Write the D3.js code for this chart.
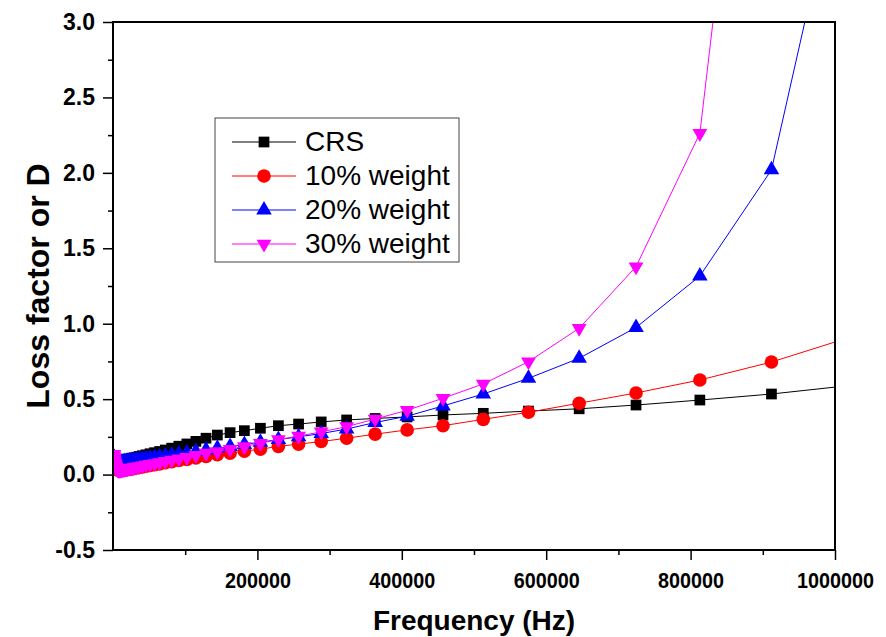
<!DOCTYPE html>
<html>
<head>
<meta charset="utf-8">
<script src="https://cdn.jsdelivr.net/npm/d3@7"></script>
<style>
  body { margin: 0; background: #fff; }
  svg { display: block; }
</style>
</head>
<body>
<div id="chartDiv"></div>
<script>
// frequency points (Hz), log spaced
const freq = [1023, 1148, 1288, 1445, 1622, 1820, 2042, 2291, 2570, 2884,
  3236, 3631, 4074, 4571, 5129, 5754, 6457, 7244, 8128, 9120,
  10233, 11482, 12882, 14454, 16218, 18197, 20417, 22909, 25704, 28840,
  32359, 36308, 40738, 45709, 51286, 57544, 64565, 72444, 81283, 91201,
  102329, 114815, 128825, 144544, 162181, 181970, 204174, 229087, 257040, 288403,
  323594, 363078, 407380, 457088, 512861, 575440, 645654, 724436, 812831, 912011,
  1023293]

const crs = [0.125, 0.12, 0.116, 0.112, 0.108, 0.105, 0.102, 0.1, 0.098, 0.096,
  0.094, 0.093, 0.092, 0.091, 0.09, 0.089, 0.089, 0.088, 0.088, 0.088,
  0.089, 0.09, 0.092, 0.094, 0.096, 0.098, 0.101, 0.104, 0.107, 0.111,
  0.115, 0.12, 0.125, 0.131, 0.138, 0.145, 0.153, 0.163, 0.175, 0.188,
  0.203, 0.22, 0.241, 0.262, 0.278, 0.291, 0.307, 0.324, 0.335, 0.349,
  0.362, 0.372, 0.382, 0.395, 0.406, 0.421, 0.436, 0.461, 0.494, 0.534,
  0.592]

const w10 = [0.1, 0.095, 0.09, 0.085, 0.08, 0.075, 0.07, 0.065, 0.06, 0.056,
  0.052, 0.048, 0.044, 0.041, 0.038, 0.035, 0.032, 0.03, 0.029, 0.028,
  0.028, 0.028, 0.029, 0.03, 0.031, 0.032, 0.034, 0.036, 0.038, 0.041,
  0.044, 0.047, 0.051, 0.055, 0.06, 0.065, 0.071, 0.078, 0.085, 0.093,
  0.101, 0.11, 0.12, 0.131, 0.142, 0.155, 0.168, 0.187, 0.202, 0.219,
  0.241, 0.268, 0.296, 0.324, 0.366, 0.413, 0.473, 0.541, 0.627, 0.746,
  0.914]

const w20 = [0.118, 0.113, 0.108, 0.104, 0.1, 0.097, 0.094, 0.091, 0.089, 0.087,
  0.085, 0.084, 0.083, 0.082, 0.081, 0.08, 0.08, 0.079, 0.079, 0.079,
  0.08, 0.081, 0.082, 0.083, 0.085, 0.086, 0.088, 0.09, 0.092, 0.094,
  0.096, 0.099, 0.102, 0.105, 0.109, 0.113, 0.118, 0.123, 0.129, 0.136,
  0.144, 0.153, 0.163, 0.174, 0.186, 0.2, 0.215, 0.232, 0.25, 0.272,
  0.302, 0.345, 0.387, 0.455, 0.534, 0.638, 0.771, 0.975, 1.316, 2.02,
  4.38]

const w30 = [0.135, 0.126, 0.117, 0.108, 0.099, 0.091, 0.083, 0.076, 0.069, 0.063,
  0.057, 0.052, 0.047, 0.043, 0.039, 0.036, 0.033, 0.031, 0.03, 0.029,
  0.029, 0.03, 0.032, 0.034, 0.035, 0.037, 0.039, 0.042, 0.044, 0.047,
  0.05, 0.054, 0.058, 0.063, 0.068, 0.074, 0.08, 0.088, 0.096, 0.105,
  0.114, 0.128, 0.142, 0.153, 0.168, 0.186, 0.207, 0.232, 0.255, 0.283,
  0.318, 0.368, 0.426, 0.506, 0.601, 0.748, 0.97, 1.378, 2.262, 6.3,
  null]

const seriesNames = ['CRS', '10% weight', '20% weight', '30% weight']
const xTicks = [200000, 400000, 600000, 800000, 1000000]
const xMinorTicks = [100000, 300000, 500000, 700000, 900000]
const yTicks = [-0.5, 0.0, 0.5, 1.0, 1.5, 2.0, 2.5, 3.0]
const yMinorTicks = [-0.25, 0.25, 0.75, 1.25, 1.75, 2.25, 2.75]

const width = 886
const height = 637
const margin = { top: 22, right: 51, bottom: 87, left: 113 }

const series = [
  { name: seriesNames[0], values: crs, color: '#000000', symbol: d3.symbolSquare, size: 115, rotate: 0 },
  { name: seriesNames[1], values: w10, color: '#ff0000', symbol: d3.symbolCircle, size: 145, rotate: 0 },
  { name: seriesNames[2], values: w20, color: '#0000ff', symbol: d3.symbolTriangle, size: 105, rotate: 0 },
  { name: seriesNames[3], values: w30, color: '#ff00ff', symbol: d3.symbolTriangle, size: 95, rotate: 180 }
]

const svg = d3.select('#chartDiv').append('svg')
  .attr('width', width)
  .attr('height', height)

const xScale = d3.scaleLinear()
  .domain([0, 1000000])
  .range([margin.left, width - margin.right])

const yScale = d3.scaleLinear()
  .domain([-0.5, 3.0])
  .range([height - margin.bottom, margin.top])

// clip marks to the plot area
svg.append('clipPath')
  .attr('id', 'plotClip')
  .append('rect')
  .attr('x', margin.left)
  .attr('y', margin.top)
  .attr('width', width - margin.left - margin.right)
  .attr('height', height - margin.top - margin.bottom)

const plot = svg.append('g').attr('clip-path', 'url(#plotClip)')

const line = d3.line()
  .defined(d => d.v !== null)
  .x(d => xScale(d.f))
  .y(d => yScale(d.v))

series.forEach(s => {
  const pts = freq.map((f, i) => ({ f, v: s.values[i] }))
  plot.append('path')
    .datum(pts)
    .attr('fill', 'none')
    .attr('stroke', s.color)
    .attr('stroke-width', 1)
    .attr('d', line)

  plot.append('g')
    .selectAll('path')
    .data(pts.filter(d => d.v !== null && d.v < 3.2))
    .enter()
    .append('path')
    .attr('d', d3.symbol().type(s.symbol).size(s.size))
    .attr('transform', d => `translate(${xScale(d.f)},${yScale(d.v)}) rotate(${s.rotate})`)
    .attr('fill', s.color)
})

// axes
const tickFont = 'Liberation Sans, Arial, sans-serif'

const yAxis = d3.axisLeft(yScale)
  .tickValues(yTicks)
  .tickFormat(d => d.toFixed(1)) // plain hyphen for -0.5
  .tickSize(10)
  .tickPadding(8)
svg.append('g')
  .attr('transform', `translate(${margin.left},0)`)
  .call(yAxis)
  .call(g => g.select('.domain').remove())
  .selectAll('text')
  .style('font-family', tickFont)
  .style('font-weight', 'bold')
  .style('font-size', '23px')

svg.append('g')
  .attr('transform', `translate(${margin.left},0)`)
  .call(d3.axisLeft(yScale).tickValues(yMinorTicks).tickFormat('').tickSize(5))
  .call(g => g.select('.domain').remove())

const xAxis = d3.axisBottom(xScale)
  .tickValues(xTicks)
  .tickFormat(d3.format('d'))
  .tickSize(10)
  .tickPadding(12)
svg.append('g')
  .attr('transform', `translate(0,${height - margin.bottom})`)
  .call(xAxis)
  .call(g => g.select('.domain').remove())
  .selectAll('text')
  .style('font-family', tickFont)
  .style('font-weight', 'bold')
  .style('font-size', '22px')
  .attr('textLength', d => String(d).length * 11) // narrow, tall digits
  .attr('lengthAdjust', 'spacingAndGlyphs')

svg.append('g')
  .attr('transform', `translate(0,${height - margin.bottom})`)
  .call(d3.axisBottom(xScale).tickValues(xMinorTicks).tickFormat('').tickSize(5))
  .call(g => g.select('.domain').remove())

svg.selectAll('.tick line').attr('stroke-width', 1.5)

// frame round the plot
svg.append('rect')
  .attr('x', margin.left)
  .attr('y', margin.top)
  .attr('width', width - margin.left - margin.right)
  .attr('height', height - margin.top - margin.bottom)
  .attr('fill', 'none')
  .attr('stroke', '#000')
  .attr('stroke-width', 2)

// axis titles
svg.append('text')
  .attr('x', (margin.left + width - margin.right) / 2)
  .attr('y', 630)
  .attr('text-anchor', 'middle')
  .style('font-family', tickFont)
  .style('font-weight', 'bold')
  .style('font-size', '28px')
  .text('Frequency (Hz)')

svg.append('text')
  .attr('transform', 'translate(49,286) rotate(-90)')
  .attr('text-anchor', 'middle')
  .style('font-family', tickFont)
  .style('font-weight', 'bold')
  .style('font-size', '32px')
  .text('Loss factor or D')

// legend
const legend = svg.append('g').attr('transform', 'translate(215,118)')
legend.append('rect')
  .attr('width', 244)
  .attr('height', 144)
  .attr('fill', '#fff')
  .attr('stroke', '#444')
  .attr('stroke-width', 1)

series.forEach((s, i) => {
  const y = 24 + i * 34
  legend.append('line')
    .attr('x1', 17).attr('x2', 81)
    .attr('y1', y).attr('y2', y)
    .attr('stroke', s.color)
    .attr('stroke-width', 1)
  legend.append('path')
    .attr('d', d3.symbol().type(s.symbol).size(s.size))
    .attr('transform', `translate(49,${y}) rotate(${s.rotate})`)
    .attr('fill', s.color)
  legend.append('text')
    .attr('x', 90)
    .attr('y', y + 9)
    .style('font-family', tickFont)
    .style('font-size', '28px')
    .text(s.name)
})
</script>
</body>
</html>
